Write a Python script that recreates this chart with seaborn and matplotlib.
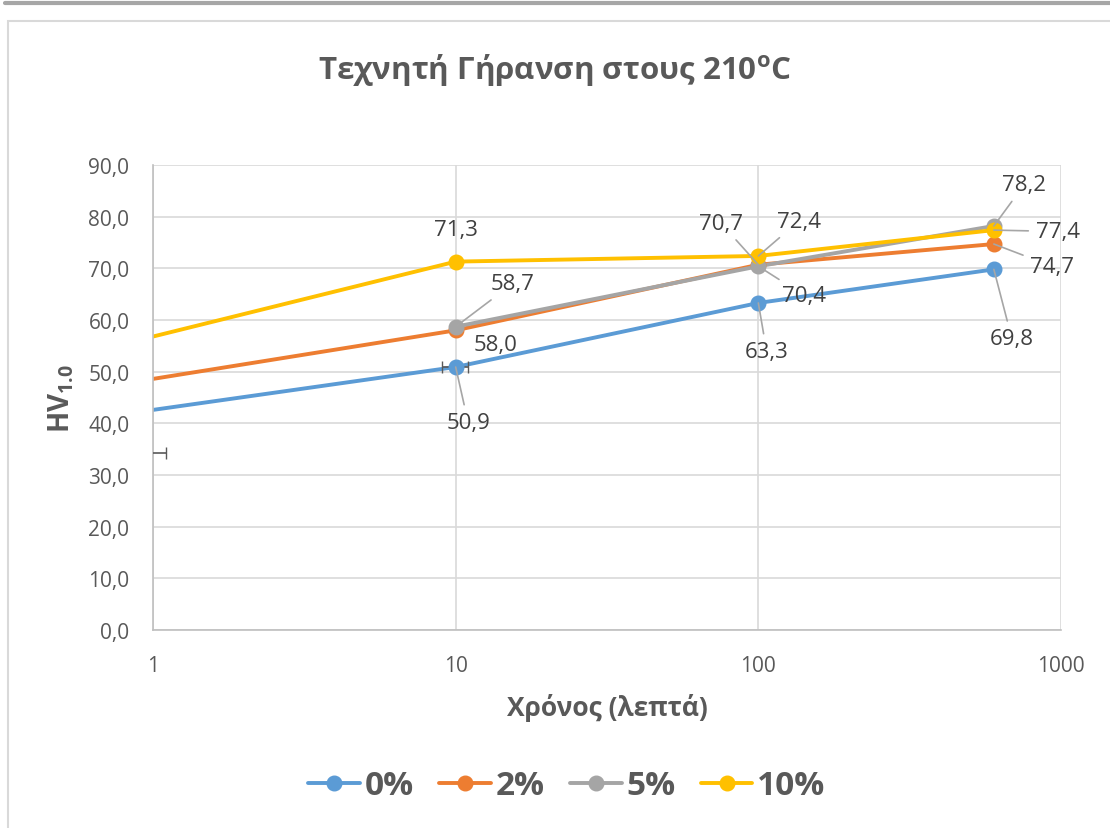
import numpy as np
import pandas as pd
import matplotlib
matplotlib.use('Agg')
import matplotlib.pyplot as plt
import seaborn as sns
from matplotlib.lines import Line2D
from matplotlib.patches import Rectangle
from matplotlib.ticker import FuncFormatter, FixedLocator

# data
minutes = [1, 10, 100, 600]
series = ['0%', '2%', '5%', '10%']
hv_0 = [42.6, 50.9, 63.3, 69.8]
hv_2 = [48.6, 58.0, 70.7, 74.7]
hv_5 = [np.nan, 58.7, 70.4, 78.2]
hv_10 = [56.8, 71.3, 72.4, 77.4]
colors = ['#5B9BD5', '#ED7D31', '#A5A5A5', '#FFC000']

# label offsets (points) for the data labels, per series, points at 10/100/600
lab_off = {
    '0%': [(9, -40), (6, -35), (13, -50)],
    '2%': [(29, -10), (-27, 30), (42, -16)],
    '5%': [(41, 31), (33, -21), (22, 30)],
    '10%': [(0, 23), (29, 25), (46, -1)],
}
leader = {
    '0%': [True, True, True],
    '2%': [False, True, True],
    '5%': [True, True, True],
    '10%': [False, True, True],
}

df = pd.DataFrame({'t': minutes * 4,
                   'hv': hv_0 + hv_2 + hv_5 + hv_10,
                   'series': np.repeat(series, 4)})

sns.set_theme(style='white')
plt.rcParams['font.family'] = ['Open Sans', 'DejaVu Sans']
plt.rcParams['mathtext.fontset'] = 'custom'
plt.rcParams['mathtext.rm'] = 'Open Sans'
plt.rcParams['mathtext.bf'] = 'Open Sans:bold'
txt = '#595959'

fig = plt.figure(figsize=(11.1, 8.29), dpi=100)
ax = fig.add_axes([153/1110, 1-631/829, (1061-153)/1110, (631-166)/829])

pal = dict(zip(series, colors))
sns.lineplot(data=df.dropna(), x='t', y='hv', hue='series', palette=pal,
             linewidth=2.8, legend=False, ax=ax, sort=False)
pts = df[df.t >= 10].dropna()
for s in series:
    d = pts[pts.series == s]
    ax.plot(d.t, d.hv, 'o', color=pal[s], markersize=10.5, zorder=4)

# small error bars seen in the chart
ax.errorbar([1], [34.3], xerr=[[0.1], [0.1]], fmt='none', ecolor='#595959',
            elinewidth=1.2, capsize=4, zorder=3)
ax.errorbar([10], [50.9], xerr=[[1.0], [1.0]], fmt='none', ecolor='#595959',
            elinewidth=1.2, capsize=4, zorder=3.5)

ax.set_xscale('log')
ax.set_xlim(1, 1000)
ax.set_ylim(0, 90)
ax.xaxis.set_major_locator(FixedLocator([1, 10, 100, 1000]))
ax.xaxis.set_minor_locator(FixedLocator([]))
ax.xaxis.set_major_formatter(FuncFormatter(lambda v, p: f'{v:g}'))
ax.set_yticks(np.arange(0, 91, 10))
ax.yaxis.set_major_formatter(FuncFormatter(lambda v, p: f'{v:.1f}'.replace('.', ',')))
ax.grid(True, color='#D9D9D9', linewidth=1.2)
ax.set_axisbelow(True)
for sp in ['top', 'right']:
    ax.spines[sp].set_visible(False)
for sp in ['left', 'bottom']:
    ax.spines[sp].set_color('#BFBFBF')
    ax.spines[sp].set_linewidth(1.2)
ax.tick_params(length=0, labelsize=15, labelcolor=txt)
ax.tick_params(axis='x', pad=18)
ax.tick_params(axis='y', pad=17)

ax.set_xlabel('Χρόνος (λεπτά)', fontsize=19, fontweight='bold', color=txt, labelpad=12)
ax.set_ylabel(r'HV$_{\mathbf{1.0}}$', fontsize=20, fontweight='bold', color=txt, labelpad=9)
fig.text(0.5, 1-70/829, r'Τεχνητή Γήρανση στους 210$^{\mathbf{o}}$C', ha='center',
         va='center', fontsize=22.5, fontweight='bold', color=txt)

vals = {'0%': hv_0, '2%': hv_2, '5%': hv_5, '10%': hv_10}
for s in series:
    for i, x in enumerate(minutes[1:]):
        y = vals[s][i + 1]
        ap = dict(arrowstyle='-', color='#A6A6A6', lw=1.2, shrinkA=3, shrinkB=0) if leader[s][i] else None
        ax.annotate(f'{y:.1f}'.replace('.', ','), (x, y), xytext=lab_off[s][i],
                    textcoords='offset points', ha='center', va='center',
                    fontsize=16, color='#404040', arrowprops=ap, zorder=5)

handles = [Line2D([0], [0], color=c, lw=2.8, marker='o', markersize=10.5) for c in colors]
leg = fig.legend(handles, series, loc='center', bbox_to_anchor=(567/1110, 1-787/829),
                 ncol=4, frameon=False, handlelength=1.55, columnspacing=0.75,
                 handletextpad=0.15, prop={'size': 24, 'weight': 'bold'})
for t in leg.get_texts():
    t.set_color(txt)

# chart frame and page band
fig.patches.append(Rectangle((8/1110, -0.01), 1.02, 1-22/829 + 0.01, transform=fig.transFigure,
                             fill=False, edgecolor='#D9D9D9', lw=1.5))
fig.lines.append(Line2D([5/1110, 1], [1-4/829, 1-4/829], transform=fig.transFigure,
                        color='#A6A6A6', lw=3))

fig.savefig('out.png', dpi=100)
